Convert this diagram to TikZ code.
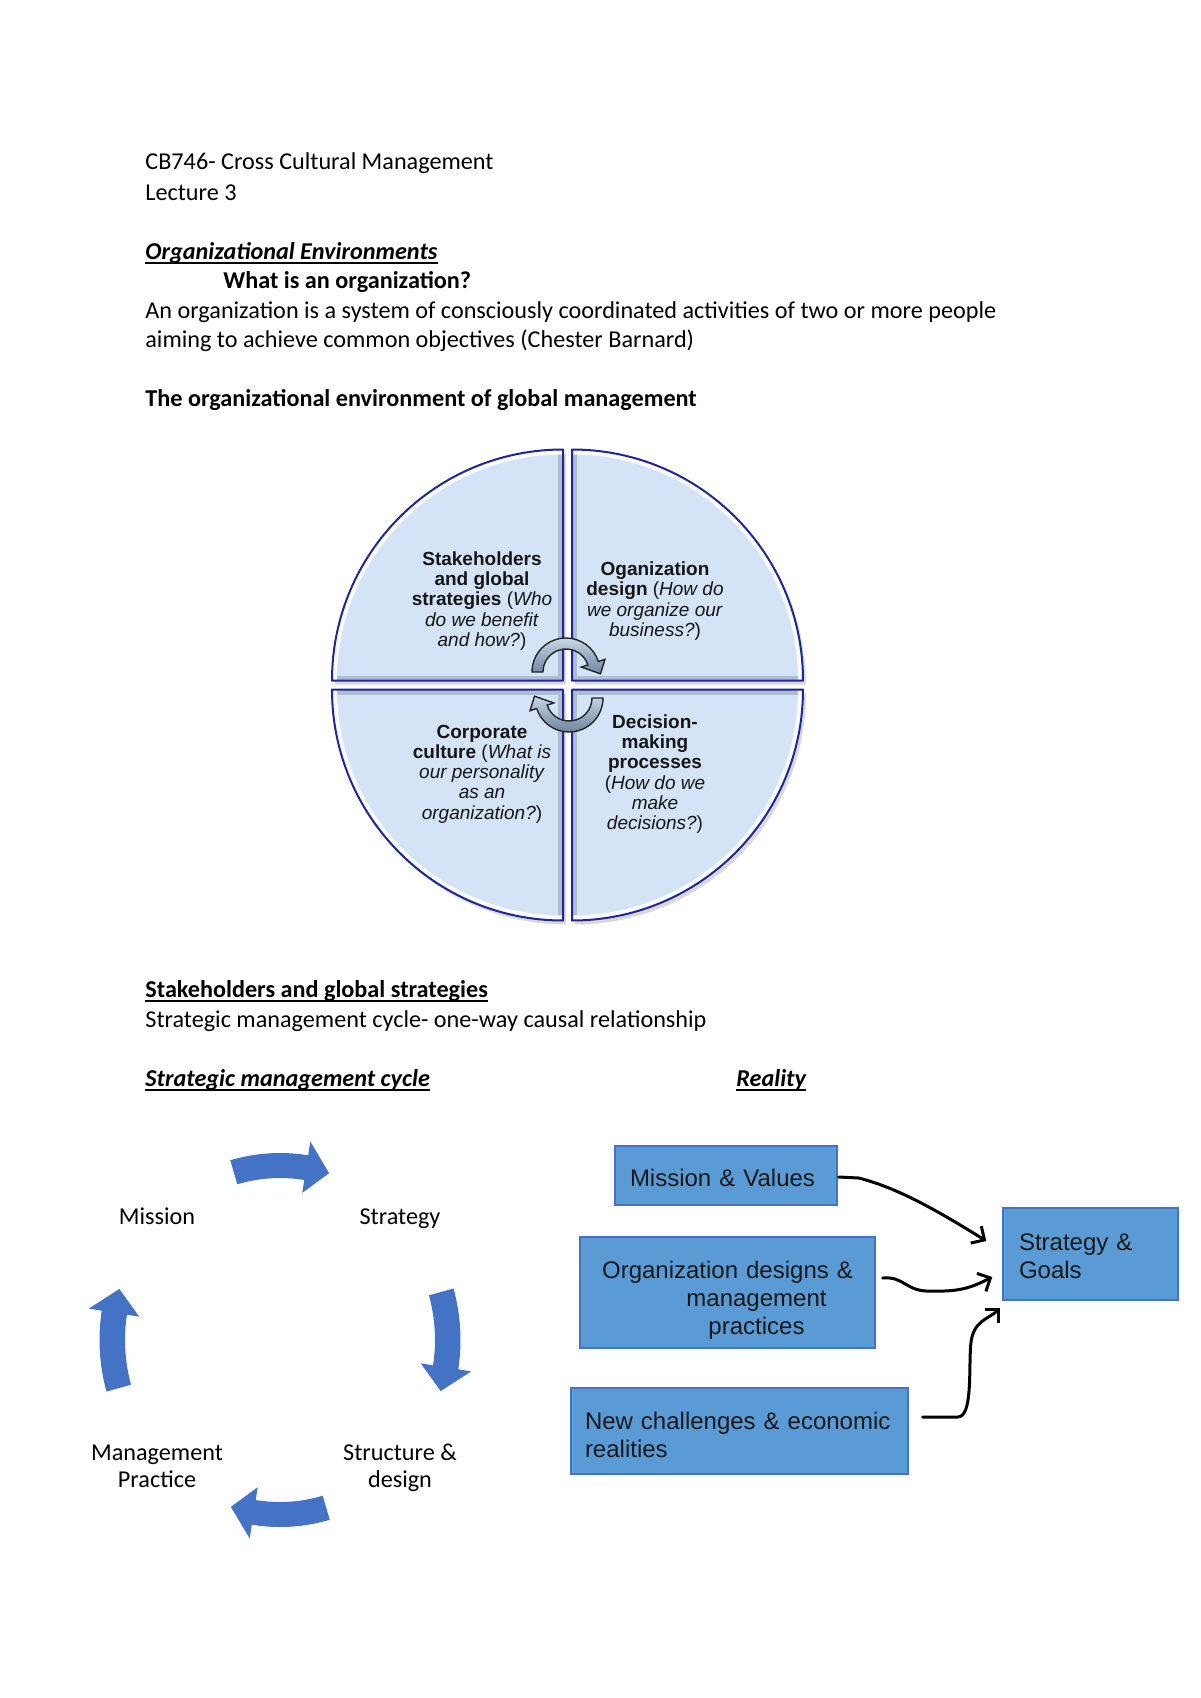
\documentclass[tikz,border=0pt]{standalone}
\usepackage{fontspec}
\setmainfont{Carlito}
\newfontfamily\arialfont{Liberation Sans}
\usepackage{tikz}
\usetikzlibrary{arrows.meta}
\usetikzlibrary{calc}
\usetikzlibrary{positioning}
\definecolor{quadfill}{RGB}{212,227,245}
\definecolor{quadedge}{RGB}{34,38,146}
\definecolor{quadgrey}{RGB}{150,164,184}
\definecolor{quadtext}{RGB}{22,22,22}
\definecolor{arrowlight}{RGB}{200,214,230}
\definecolor{arrowdark}{RGB}{110,132,160}
\definecolor{cycleblue}{RGB}{68,114,196}
\definecolor{boxfill}{RGB}{91,155,213}
\definecolor{boxedge}{RGB}{68,114,196}
\newcommand\qrad{231}
\newcommand\qgap{4.5}
\newcommand\linewd{1pt}
\tikzset{
  bodytext/.style={anchor=base west, inner sep=0pt, font=\fontsize{12.1}{14.6}\selectfont},
  quadlabel/.style={align=center, inner sep=0pt, text=quadtext,
    font=\arialfont\fontsize{9.5}{10.15}\selectfont},
  quadline/.style={draw=quadedge, line width=\linewd, line join=round},
  quadbevel/.style={draw=quadgrey, line width=5pt, opacity=0.6},
  quadshine/.style={draw=white, line width=5pt, opacity=0.9},
  centrearrow/.style={draw=black!85, line width=0.7pt, top color=arrowlight, bottom color=arrowdark},
  cyclelabel/.style={align=center, inner sep=0pt, font=\fontsize{12.1}{13.5}\selectfont},
  realitybox/.style={draw=boxedge, fill=boxfill, line width=0.7pt, align=left, inner xsep=7.5pt,
    inner ysep=0pt, text=black!90, font=\arialfont\fontsize{12}{14}\selectfont},
  scrawl/.style={line width=1.5pt, line cap=round, line join=round,
    -{Straight Barb[length=5pt,width=10pt,line width=1.5pt]}},
}
\newcommand\underrule[1]{\draw[line width=0.6pt] ([yshift=-2pt]#1.base west) -- ([yshift=-2pt]#1.base east);}
\newcommand\quadrant[1]{%
  \begin{scope}[rotate=#1]
    \fill[quadfill] (\qgap,\qgap) -- ++(\qrad,0) arc[start angle=0, end angle=90, radius=\qrad] -- cycle;
    \begin{scope}
      \clip (\qgap,\qgap) -- ++(\qrad,0) arc[start angle=0, end angle=90, radius=\qrad] -- cycle;
      \draw[quadbevel] (\qgap,\qgap+\qrad) -- (\qgap,\qgap) -- (\qgap+\qrad,\qgap);
      \draw[quadshine] (\qgap+\qrad,\qgap) arc[start angle=0, end angle=90, radius=\qrad];
    \end{scope}
    \draw[quadline] (\qgap,\qgap) -- ++(\qrad,0) arc[start angle=0, end angle=90, radius=\qrad] -- cycle;
  \end{scope}}
\newcommand\turnarrow[1]{%
  \begin{scope}[rotate=#1]
    \begin{scope}[shift={(-1.5,13)}]
      \path[centrearrow] (180:34) arc[start angle=180, end angle=18, radius=34]
        -- (18:41) -- (-3:34.5) -- (18:16) -- (18:23) arc[start angle=18, end angle=180, radius=23] -- cycle;
    \end{scope}
  \end{scope}}
\newcommand\cyclearrow[1]{%
  \fill[cycleblue] (#1+16:180.5 and 187) arc[start angle=#1+16, end angle=#1-9, x radius=180.5, y radius=187]
    -- (#1-9:193.5 and 201) -- (#1-17:168 and 174.5) -- (#1-9:142.5 and 149) -- (#1-9:155 and 162)
    arc[start angle=#1-9, end angle=#1+16, x radius=155, y radius=162] -- cycle;}

\begin{document}
\begin{tikzpicture}[x=0.5pt,y=-0.5pt]
  \useasboundingbox (0,0) rectangle (1200,1698);
  % heading lines
  \node[bodytext] (course) at (145,169) {CB746- Cross Cultural Management};
  \node[bodytext] (lecture) at (145,200) {Lecture 3};
  \node[bodytext] (envhead) at (145,259) {\bfseries\itshape Organizational Environments};
  \underrule{envhead}
  \node[bodytext] (question) at (223,288) {\bfseries What is an organization?};
  \node[bodytext] (definition) at (145,318)
    {An organization is a system of consciously coordinated activities of two or more people};
  \node[bodytext] (definitionb) at (145,347) {aiming to achieve common objectives (Chester Barnard)};
  \node[bodytext] (envtitle) at (145,406) {\bfseries The organizational environment of global management};

  % the four quarters
  \begin{scope}[shift={(567.5,685)}, yscale=-1]
    \begin{scope}[shift={(3,-4)}]
      \foreach \turn in {0,90,180,270}
        {\fill[black, opacity=0.15, rotate=\turn]
          (\qgap,\qgap) -- ++(\qrad,0) arc[start angle=0, end angle=90, radius=\qrad] -- cycle;}
    \end{scope}
    \foreach \turn in {0,90,180,270}
      {\quadrant{\turn}}
    \turnarrow{0}
    \turnarrow{180}
  \end{scope}
  \node[quadlabel] (stakeholders) at (482,601)
    {\textbf{Stakeholders}\\\textbf{and global}\\\textbf{strategies} (\textit{Who}\\
     \textit{do we benefit}\\\textit{and how?})};
  \node[quadlabel] (design) at (655,601)
    {\textbf{Oganization}\\\textbf{design} (\textit{How do}\\\textit{we organize our}\\\textit{business?})};
  \node[quadlabel] (culture) at (482,774)
    {\textbf{Corporate}\\\textbf{culture} (\textit{What is}\\\textit{our personality}\\
     \textit{as an}\\\textit{organization?})};
  \node[quadlabel] (decisions) at (655,774)
    {\textbf{Decision-}\\\textbf{making}\\\textbf{processes}\\(\textit{How do we}\\
     \textit{make}\\\textit{decisions?})};

  % second part
  \node[bodytext] (stakehead) at (145,997) {\bfseries Stakeholders and global strategies};
  \underrule{stakehead}
  \node[bodytext] (cycleintro) at (145,1027) {Strategic management cycle- one-way causal relationship};
  \node[bodytext] (cyclehead) at (145,1086) {\bfseries\itshape Strategic management cycle};
  \underrule{cyclehead}
  \node[bodytext] (realityhead) at (736,1086) {\bfseries\itshape Reality};
  \underrule{realityhead}

  % cycle
  \begin{scope}[shift={(280,1340)}, yscale=-1]
    \foreach \centreangle in {90,0,-90,180}
      {\cyclearrow{\centreangle}}
  \end{scope}
  \node[cyclelabel] (mission) at (157,1216) {Mission};
  \node[cyclelabel] (strategy) at (400,1219) {Strategy};
  \node[cyclelabel] (structure) at (400,1468) {Structure \&\\design};
  \node[cyclelabel] (practice) at (157,1466) {Management\\Practice};

  % reality
  \node[realitybox, minimum width=111pt, minimum height=29.5pt, text width=96pt] (values)
    at (726,1175.5) {\rule{0pt}{10.7pt}Mission \& Values};
  \node[realitybox, align=center, minimum width=147.5pt, minimum height=55.5pt, text width=132.5pt]
    (orgdesign) at (727.5,1292.5)
    {\rule{0pt}{16.3pt}Organization designs \&\\\hspace*{29pt}management\\\hspace*{29pt}practices};
  \node[realitybox, inner xsep=7pt, minimum width=168.5pt, minimum height=43pt, text width=154.5pt]
    (challenges) at (739.5,1431) {\rule{0pt}{13pt}New challenges \& economic\\realities};
  \node[realitybox, inner xsep=8pt, minimum width=87.5pt, minimum height=46pt, text width=71.5pt]
    (goals) at (1090.5,1254) {\rule{0pt}{10.4pt}Strategy \&\\Goals};
  \draw[scrawl] ($(values.east)+(1,1.5)$) -- ++(20,1)
    .. controls +(40,10) and +(-45,-28) .. ($(goals.west)+(-16,-13)$);
  \draw[scrawl] ($(orgdesign.east)+(7,-14.5)$) .. controls +(22,-2) and +(-25,1) .. ($(orgdesign.east)+(55,-1.5)$)
    .. controls +(30,1) and +(-20,10) .. ($(goals.west)+(-10,23)$);
  \draw[scrawl] ($(challenges.east)+(14,-14)$) -- ++(35,0)
    .. controls +(15,0) and +(-2,25) .. ($(challenges.east)+(62,-86)$)
    .. controls +(2,-25) and +(-12,12) .. ($(goals.south west)+(-2,7)$);
\end{tikzpicture}
\end{document}
